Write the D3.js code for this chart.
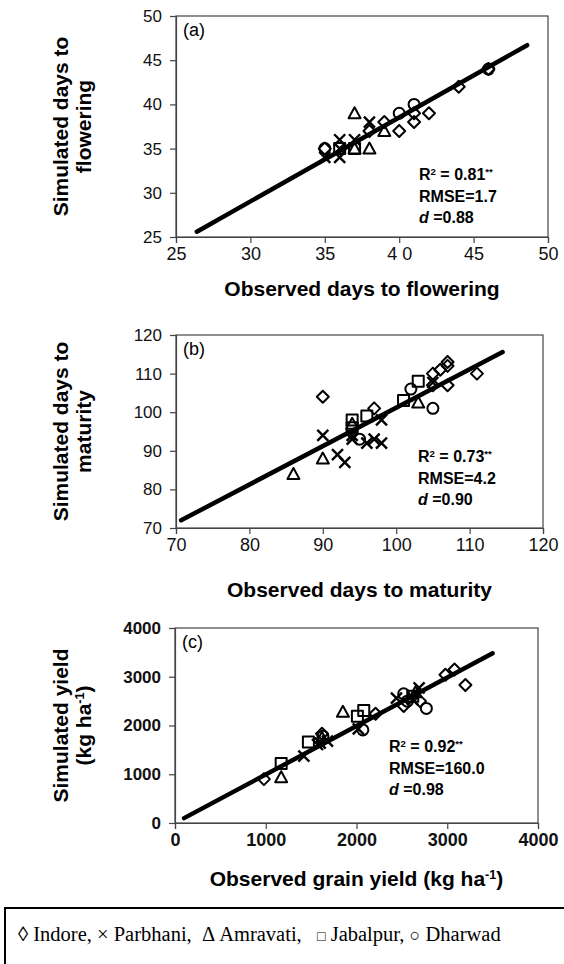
<!DOCTYPE html>
<html>
<head>
<meta charset="utf-8">
<script src="https://cdn.jsdelivr.net/npm/d3@7"></script>
<style>
  body { margin: 0; background: #fff; }
  svg { display: block; }
</style>
</head>
<body>
<div id="chart"></div>
<script>
// ---- data: [observed, simulated] ----
// (a) days to flowering
const flowIndore   = [[35,35],[38,37],[39,38],[40,37],[41,38],[41,39],[42,39],[44,42],[46,44]];
const flowParbhani = [[35,34],[36,36],[36,34],[36,35],[37,36],[38,38]];
const flowAmravati = [[37,39],[39,37],[38,35],[37,35]];
const flowJabalpur = [[36,35],[37,35]];
const flowDharwad  = [[40,39],[41,40],[46,44],[35,35]];
const flowLine  = [[26.4,25.6],[48.6,46.7]];
const flowStats = ["0.81", "1.7", "0.88"];

// (b) days to maturity
const matIndore   = [[90,104],[97,101],[105,110],[106,111],[107,113],[107,107],[111,110],[105,107],[107,112]];
const matParbhani = [[90,94],[92,89],[93,87],[96,92],[97,93],[98,92],[98,98],[94,93],[105,107.7],[94,94]];
const matAmravati = [[86,84],[90,88],[103,102.5],[94,97]];
const matJabalpur = [[94,98],[96,99],[101,103],[103,108],[94,96]];
const matDharwad  = [[105,101],[95,93],[102,106]];
const matLine  = [[70.7,72],[114.5,115.6]];
const matStats = ["0.73", "4.2", "0.90"];

// (c) grain yield
const yldIndore   = [[980,900],[2980,3040],[3080,3150],[3200,2830],[1620,1830],[2210,2240],[2520,2400],[2700,2500]];
const yldParbhani = [[1420,1370],[1570,1610],[1680,1680],[2020,1930],[2440,2560],[2690,2770],[2620,2530],[1600,1640]];
const yldAmravati = [[1170,940],[1850,2280],[2650,2680],[1620,1750]];
const yldJabalpur = [[1170,1220],[1470,1660],[2010,2190],[2080,2310],[2620,2600]];
const yldDharwad  = [[2770,2350],[2070,1910],[2520,2650],[1630,1780],[2560,2500]];
const yldLine  = [[100,100],[3500,3480]];
const yldStats = ["0.92", "160.0", "0.98"];

const flowTicks = [25,30,35,40,45,50];
const matTicks  = [70,80,90,100,110,120];
const yldTicks  = [0,1000,2000,3000,4000];

// legend: symbol glyph + site name + trailing separator
const legendSymbols = ["\u25CA", "\u00D7", "\u0394", "\u25A1", "\u25CB"];
const legendSites   = ["Indore", "Parbhani", "Amravati", "Jabalpur", "Dharwad"];
const legendSeps    = [", ", ",  ", ",   ", ", ", ""];

/************************************************************
 * Setup
 ************************************************************/
const W = 564, H = 964;
const SANS = "'Liberation Sans', Arial, sans-serif";

const svg = d3.select("#chart").append("svg")
  .attr("width", W).attr("height", H)
  .attr("viewBox", `0 0 ${W} ${H}`);

// one entry per panel => layout + which arrays to use
const panels = [
  { tag: "(a)", left: 176, right: 548, top: 16, bottom: 237,
    ticks: flowTicks, line: flowLine, stats: flowStats,
    sets: [flowIndore, flowParbhani, flowAmravati, flowJabalpur, flowDharwad],
    ylab: ["Simulated days to", "flowering"], xlab: "Observed days to flowering",
    xlabY: 296, statX: 419, statY: 180, tickBold: false },
  { tag: "(b)", left: 176, right: 543, top: 335, bottom: 528,
    ticks: matTicks, line: matLine, stats: matStats,
    sets: [matIndore, matParbhani, matAmravati, matJabalpur, matDharwad],
    ylab: ["Simulated days to", "maturity"], xlab: "Observed days to maturity",
    xlabY: 597, statX: 418, statY: 462, tickBold: false },
  { tag: "(c)", left: 175, right: 538, top: 628, bottom: 823,
    ticks: yldTicks, line: yldLine, stats: yldStats,
    sets: [yldIndore, yldParbhani, yldAmravati, yldJabalpur, yldDharwad],
    ylab: ["Simulated yield", "(kg ha|-1|)"], xlab: "Observed grain yield (kg ha|-1|)",
    xlabY: 886, statX: 389, statY: 752, tickBold: true }
];

const shapes = ["diamond", "cross", "triangle", "square", "circle"];

function markPath(type, x, y) {
  const s = 6;
  switch (type) {
    case "diamond":  return `M${x},${y-s}L${x+s},${y}L${x},${y+s}L${x-s},${y}Z`;
    case "square":   return `M${x-5.5},${y-5.5}h11v11h-11Z`;
    case "triangle": return `M${x},${y-6}L${x+6},${y+5}L${x-6},${y+5}Z`;
    case "cross":    return `M${x-5.5},${y-5.5}L${x+5.5},${y+5.5}M${x+5.5},${y-5.5}L${x-5.5},${y+5.5}`;
  }
}

// text with "|sup|" parts raised
function richText(sel, str) {
  str.split("|").forEach((part, i) => {
    if (!part) return;
    const t = sel.append("tspan").text(part);
    if (i % 2 === 1) t.attr("baseline-shift", "super").attr("font-size", "60%");
  });
}

/************************************************************
 * Draw panels
 ************************************************************/
panels.forEach(p => {
  const [d0, d1] = d3.extent(p.ticks);
  const x = d3.scaleLinear().domain([d0, d1]).range([p.left, p.right]);
  const y = d3.scaleLinear().domain([d0, d1]).range([p.bottom, p.top]);
  const g = svg.append("g");

  // plot frame (top + right)
  g.append("rect")
    .attr("x", p.left).attr("y", p.top)
    .attr("width", p.right - p.left).attr("height", p.bottom - p.top)
    .attr("fill", "none").attr("stroke", "#444").attr("stroke-width", 1.2);

  const xAxis = g.append("g")
    .attr("transform", `translate(0,${p.bottom})`)
    .call(d3.axisBottom(x).tickValues(p.ticks).tickSize(6).tickPadding(4)
      .tickFormat(d => d === 40 && p.tag === "(a)" ? "4 0" : String(d)));
  const yAxis = g.append("g")
    .attr("transform", `translate(${p.left},0)`)
    .call(d3.axisLeft(y).tickValues(p.ticks).tickSize(6).tickPadding(8)
      .tickFormat(d => String(d)));

  [xAxis, yAxis].forEach(a => {
    a.selectAll("path, line").attr("stroke", "#444").attr("stroke-width", 1.2);
    a.selectAll("text")
      .attr("font-family", SANS)
      .attr("font-weight", p.tickBold ? "bold" : "normal")
      .attr("fill", "#111");
  });
  xAxis.selectAll("text").attr("font-size", 18);
  yAxis.selectAll("text").attr("font-size", 17);

  // panel tag
  g.append("text")
    .attr("x", p.left + 7).attr("y", p.top + 20)
    .attr("font-family", SANS).attr("font-size", 18)
    .text(p.tag);

  // fitted line
  g.append("line")
    .attr("x1", x(p.line[0][0])).attr("y1", y(p.line[0][1]))
    .attr("x2", x(p.line[1][0])).attr("y2", y(p.line[1][1]))
    .attr("stroke", "#000").attr("stroke-width", 4.5)
    .attr("stroke-linecap", "round");

  // markers per site
  p.sets.forEach((set, i) => {
    const type = shapes[i];
    if (type === "circle") {
      g.selectAll(null).data(set).join("circle")
        .attr("cx", d => x(d[0])).attr("cy", d => y(d[1])).attr("r", 5.5)
        .attr("fill", "none").attr("stroke", "#000").attr("stroke-width", 2);
    } else {
      g.selectAll(null).data(set).join("path")
        .attr("d", d => markPath(type, x(d[0]), y(d[1])))
        .attr("fill", "none").attr("stroke", "#000")
        .attr("stroke-width", type === "cross" ? 2.4 : 2)
        .attr("stroke-linejoin", "round");
    }
  });

  // stats block
  const st = g.append("g")
    .attr("font-family", SANS).attr("font-size", 16).attr("font-weight", "bold");
  const r2 = st.append("text").attr("x", p.statX).attr("y", p.statY);
  r2.append("tspan").text("R");
  r2.append("tspan").attr("baseline-shift", "super").attr("font-size", "60%").text("2");
  r2.append("tspan").text(" = " + p.stats[0]);
  r2.append("tspan").attr("baseline-shift", "super").attr("font-size", "60%").text("**");
  st.append("text").attr("x", p.statX).attr("y", p.statY + 22)
    .text("RMSE=" + p.stats[1]);
  const dt = st.append("text").attr("x", p.statX).attr("y", p.statY + 43);
  dt.append("tspan").attr("font-style", "italic").text("d");
  dt.append("tspan").text(" =" + p.stats[2]);

  // axis titles
  const xt = g.append("text")
    .attr("x", (p.left + p.right) / 2).attr("y", p.xlabY)
    .attr("text-anchor", "middle")
    .attr("font-family", SANS).attr("font-size", 21).attr("font-weight", "bold");
  richText(xt, p.xlab);

  const midY = (p.top + p.bottom) / 2;
  p.ylab.forEach((lab, i) => {
    const yt = g.append("text")
      .attr("transform", `translate(${68 + i * 23},${midY}) rotate(-90)`)
      .attr("text-anchor", "middle")
      .attr("font-family", SANS).attr("font-size", 21).attr("font-weight", "bold");
    richText(yt, lab);
  });
});

/************************************************************
 * Legend box
 ************************************************************/
svg.append("rect")
  .attr("x", 5).attr("y", 908).attr("width", 620).attr("height", 120)
  .attr("fill", "none").attr("stroke", "#000").attr("stroke-width", 2);

const leg = svg.append("text")
  .attr("x", 18).attr("y", 941)
  .attr("font-family", "'Liberation Serif', 'Times New Roman', serif")
  .attr("font-size", 20.5)
  .style("white-space", "pre");

legendSites.forEach((site, i) => {
  // square and circle glyphs are drawn small in the original
  const size = i === 3 ? 14 : i === 4 ? 18 : 20.5;
  leg.append("tspan")
    .attr("font-size", size)
    .text(legendSymbols[i]);
  leg.append("tspan").text(" " + site + legendSeps[i]);
});
</script>
</body>
</html>
